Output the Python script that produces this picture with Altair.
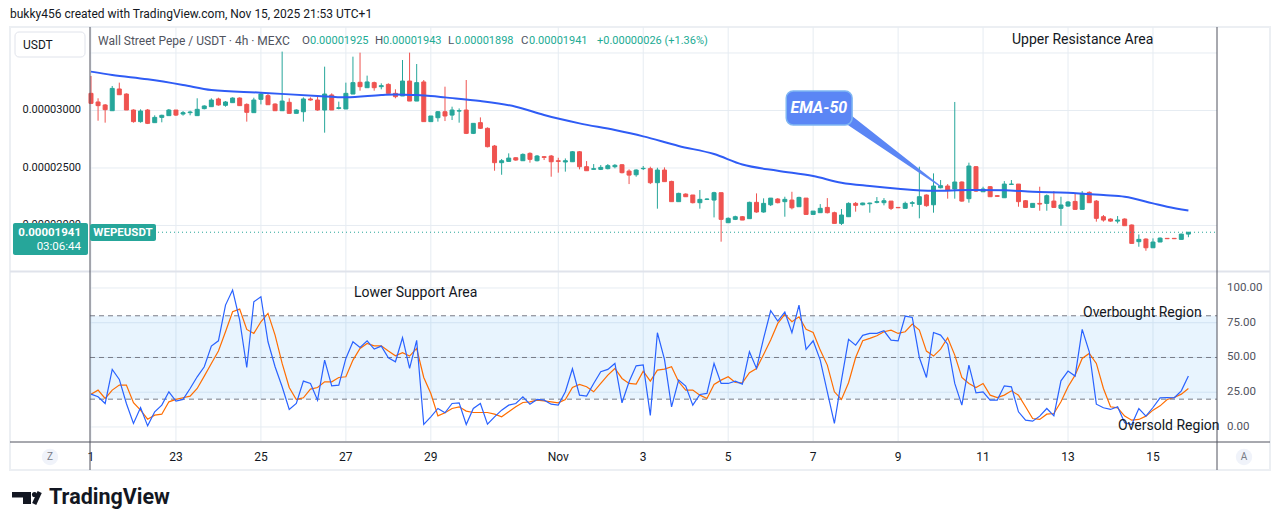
import altair as alt
import pandas as pd

# ---------------- data (prices in units of 1e-8 USDT) ----------------
OPEN = [3149,3074,3048,2998,3187,3143,3004,2903,3004,2894,
        2940,2955,3004,2969,2981,2955,3016,3033,3100,3045,
        3068,3108,3053,2981,3097,3129,3056,2998,3071,2975,
        2989,3100,3091,3004,3135,3018,3013,3143,3245,3198,
        3242,3207,3227,3149,3126,3256,3082,3248,2903,2937,
        2989,2960,2995,3004,2801,2894,2845,2691,2546,2557,
        2589,2563,2627,2563,2598,2604,2563,2552,2554,2641,
        2511,2488,2488,2494,2511,2528,2473,2441,2494,2494,
        2372,2482,2383,2207,2273,2265,2198,2227,2221,2285,
        2024,2053,2076,2059,2201,2117,2180,2230,2207,2221,
        2163,2238,2096,2111,2157,2111,2018,2076,2192,2180,
        2189,2201,2198,2212,2157,2149,2192,2183,2265,2180,
        2328,2343,2317,2378,2233,2511,2293,2337,2259,2241,
        2357,2360,2215,2157,2192,2192,2212,2149,2169,2209,
        2140,2288,2212,2076,2056,2038,2056,2004,1859,1882,
        1806,1856,1888,1888,1879,1925]
HIGH = [3300,3106,3056,3213,3242,3149,3010,3010,3013,2958,
        2963,3013,3004,2995,2998,3106,3045,3106,3111,3082,
        3114,3114,3062,3111,3155,3149,3062,3512,3106,3010,
        3114,3114,3126,3381,3149,3077,3242,3468,3503,3303,
        3251,3236,3236,3184,3439,3503,3404,3265,2952,2995,
        3207,3033,3018,3265,2888,2940,2853,2700,2578,2627,
        2592,2627,2636,2613,2604,2613,2589,2583,2647,2647,
        2560,2534,2525,2534,2534,2534,2488,2488,2517,2511,
        2502,2505,2389,2285,2279,2265,2308,2236,2293,2285,
        2070,2085,2082,2207,2279,2236,2238,2238,2250,2293,
        2250,2238,2125,2186,2238,2120,2143,2201,2204,2198,
        2198,2247,2238,2212,2160,2207,2212,2511,2270,2453,
        2395,2360,3074,2383,2546,2517,2337,2343,2262,2386,
        2395,2360,2221,2192,2337,2270,2299,2250,2212,2279,
        2299,2296,2221,2091,2062,2082,2062,2009,1922,1888,
        1888,1896,1890,1890,1928,1943]
LOW = [3056,2911,2894,2998,3137,3004,2894,2894,2882,2894,
       2897,2955,2952,2955,2958,2955,3010,3033,3042,3033,
       3068,3039,2903,2981,3053,3048,2998,2998,2975,2975,
       2903,3085,2998,2807,3004,3010,3013,3143,3172,3198,
       3172,3184,3149,3106,3126,3082,3082,2903,2903,2903,
       2908,2917,2894,2795,2795,2839,2679,2476,2441,2557,
       2563,2563,2546,2557,2569,2424,2459,2468,2554,2488,
       2476,2488,2482,2488,2497,2453,2360,2424,2482,2360,
       2146,2381,2207,2207,2250,2192,2146,2221,2070,1859,
       2024,2047,2047,2059,2111,2111,2169,2192,2076,2140,
       2163,2096,2096,2111,2105,2018,2004,2076,2120,2175,
       2111,2192,2175,2134,2151,2149,2163,2062,2163,2111,
       2323,2233,2233,2207,2198,2291,2293,2250,2250,2241,
       2357,2163,2157,2157,2128,2128,2157,1998,2163,2140,
       2140,2198,2033,2033,2033,2018,1998,1844,1815,1780,
       1806,1856,1882,1882,1879,1898]
CLOSE = [3062,3042,3007,3192,3137,3004,2903,2995,2888,2940,
         2958,3004,2960,2981,2987,3010,3039,3091,3048,3074,
         3108,3042,2984,3091,3143,3050,2998,3082,2975,3004,
         3100,3091,3004,3143,3004,3024,3149,3242,3207,3248,
         3198,3216,3149,3120,3256,3082,3242,2903,2952,2989,
         2952,3004,2998,2801,2888,2845,2685,2546,2563,2586,
         2569,2618,2575,2604,2592,2554,2557,2563,2641,2511,
         2476,2494,2505,2520,2523,2459,2438,2482,2497,2372,
         2482,2381,2207,2279,2250,2198,2227,2230,2285,2053,
         2062,2076,2047,2201,2117,2192,2238,2198,2227,2154,
         2244,2096,2125,2149,2111,2018,2091,2192,2175,2195,
         2195,2207,2215,2149,2154,2192,2198,2250,2172,2343,
         2346,2308,2378,2212,2517,2299,2317,2250,2253,2360,
         2360,2207,2157,2192,2186,2259,2157,2178,2204,2140,
         2279,2198,2062,2047,2038,2047,1998,1844,1879,1806,
         1856,1890,1885,1885,1925,1941]

# EMA-50 read at sample candles
EMA_IDX = [0, 3, 8, 13, 17, 24, 32, 36, 41, 43, 46, 48, 50, 55, 60, 64, 69, 74, 78,
           83, 88, 92, 97, 102, 106, 110, 114, 119, 124, 129, 133, 138, 143, 146,
           150, 152, 155]
EMA_VAL = [3338, 3309, 3271, 3222, 3178, 3155, 3126, 3114, 3134, 3140, 3134, 3126,
           3114, 3083, 3033, 2960, 2888, 2830, 2775, 2691, 2621, 2530, 2476, 2430,
           2372, 2343, 2320, 2302, 2308, 2306, 2293, 2285, 2264, 2250, 2192, 2163, 2130]

# Stochastic RSI
K = [23.6,21.7,16.9,41.4,34.2,16.9,2.5,14.0,0.8,10.9,
     15.7,25.3,18.6,19.8,27.7,36.1,43.3,58.2,62.0,87.7,
     98.5,76.9,42.8,90.1,93.7,61.3,43.3,28.9,12.6,16.9,
     33.0,31.3,19.3,48.1,29.6,30.1,49.3,61.3,57.2,62.0,
     56.0,58.2,49.8,46.9,64.2,42.1,62.3,1.8,7.3,13.3,
     10.2,16.9,17.4,1.8,13.3,16.9,2.0,7.3,12.1,15.7,
     16.9,21.7,16.4,19.8,19.3,16.4,15.7,25.3,41.9,22.9,
     22.2,31.3,39.7,41.4,45.7,17.4,32.5,44.0,44.7,8.3,
     67.8,48.6,14.5,33.7,29.4,15.7,23.4,24.1,45.7,31.3,
     31.3,33.0,30.8,54.1,42.1,63.7,83.6,76.2,82.7,67.8,
     87.7,55.8,62.0,48.1,25.3,2.5,33.7,63.0,58.9,65.9,
     67.3,67.3,69.2,62.5,62.0,79.8,78.8,50.0,35.6,68.0,
     66.1,59.6,31.3,15.7,44.5,24.6,25.3,19.3,19.3,29.6,
     28.9,10.9,4.9,4.2,7.8,13.3,8.0,33.2,40.2,36.6,
     70.2,54.1,16.4,13.8,12.6,14.5,3.0,1.8,13.3,7.8,
     14.0,21.0,21.2,21.0,26.0,36.6]
D = [23.6,26.5,20.5,26.5,30.1,30.1,17.4,12.1,5.6,8.5,
     9.2,18.1,19.8,21.0,22.2,27.7,36.6,45.7,54.6,68.5,
     82.9,84.8,70.2,67.3,75.7,81.7,66.1,45.7,28.4,19.8,
     21.0,27.2,28.4,32.5,32.5,35.6,36.1,48.1,56.5,60.1,
     58.4,58.4,54.6,51.2,53.4,51.0,56.5,35.6,24.1,8.0,
     10.2,13.3,14.5,11.4,10.4,10.4,10.4,9.2,7.3,10.9,
     14.5,17.6,18.1,19.3,18.8,18.1,17.4,19.8,28.4,30.6,
     28.9,25.3,31.3,37.3,42.1,34.9,31.3,30.8,40.2,33.0,
     40.9,41.6,43.3,32.5,26.5,26.5,22.9,20.5,30.6,33.7,
     36.1,32.0,31.8,39.0,42.1,52.2,62.5,74.5,81.0,75.7,
     79.3,70.2,68.0,55.3,44.5,25.3,19.8,31.8,50.0,62.0,
     63.7,65.6,68.5,69.7,67.3,68.5,74.0,69.7,54.6,51.0,
     56.0,64.2,51.7,35.6,31.3,28.4,31.3,22.9,21.2,22.9,
     26.0,22.9,14.5,6.1,5.4,9.2,9.7,18.1,28.9,37.3,
     49.3,52.9,45.7,27.7,14.5,13.8,7.8,4.9,5.4,7.8,
     12.1,15.2,19.8,21.2,23.6,27.7]

DAY_TICKS = [0, 12, 24, 36, 48, 66, 78, 90, 102, 114, 126, 138, 150]   # candle index of day start
DAY_LABELS = ["1", "23", "25", "27", "29", "Nov", "3", "5", "7", "9", "11", "13", "15"]
PRICE_GRID = [2000, 2500, 3000, 3500]
PRICE_LABELS = [2000, 2500, 3000]
OSC_TICKS = [0, 25, 50, 75, 100]
OSC_LEVELS = [80, 50, 20]
BAND = [20, 80]
LAST_PRICE = 1941

# EMA-50 callout (candle index / price)
CALLOUT_BOX = [98.2, 107.5, 2874, 3170]
CALLOUT_TEXT = [102.8, 3022]
POINTER_IDX = [106.9, 119.9]
POINTER_VAL = [2926, 2343]
POINTER_W = [10, 1]

U = 1e-8
FONT = "Roboto"
GREEN = "#26a69a"
RED = "#ef5350"
GRID = "#e6ecf2"
DARK = "#50535e"
W, H = 1127, 414

n = len(OPEN)
candles = pd.DataFrame({
    "i": list(range(n)),
    "o": [v * U for v in OPEN],
    "h": [v * U for v in HIGH],
    "l": [v * U for v in LOW],
    "c": [v * U for v in CLOSE],
    "dir": ["up" if c >= o else "down" for o, c in zip(OPEN, CLOSE)],
})
ema = pd.DataFrame({"i": EMA_IDX, "v": [v * U for v in EMA_VAL]})
osc = pd.DataFrame({"i": list(range(n)), "k": K, "d": D})
ONE = pd.DataFrame({"z": [0]})

XS = alt.Scale(domain=[-0.14, 159.04], nice=False, zero=False, padding=0)
PS = alt.Scale(domain=[1604 * U, 3726 * U], range=[244, 0], nice=False, zero=False, padding=0)
OS = alt.Scale(domain=[-10.1, 111.5], range=[414, 245], nice=False, zero=False, padding=0)
CS = alt.Scale(domain=["up", "down"], range=[GREEN, RED])


def X(f):
    return alt.X(f, scale=XS, axis=None)


def PY(f):
    return alt.Y(f, scale=PS, axis=None)


def OY(f):
    return alt.Y(f, scale=OS, axis=None)


# ---------------- grids ----------------
vgrid = alt.Chart(pd.DataFrame({"i": DAY_TICKS})).mark_rule(color=GRID, strokeWidth=1).encode(
    x=X("i:Q"), y=alt.value(0), y2=alt.value(H))

# ---------------- price pane ----------------
pgrid = alt.Chart(pd.DataFrame({"p": [v * U for v in PRICE_GRID]})).mark_rule(
    color=GRID, strokeWidth=1).encode(x=alt.value(0), x2=alt.value(W), y=PY("p:Q"))
plabels = alt.Chart(pd.DataFrame({"p": [v * U for v in PRICE_LABELS],
                                  "t": ["{:.8f}".format(v * U) for v in PRICE_LABELS]})).mark_text(
    font=FONT, fontSize=11, color="#131722", align="right", baseline="middle").encode(
    x=alt.value(-9), y=PY("p:Q"), text="t:N")
wicks = alt.Chart(candles).mark_rule(strokeWidth=1).encode(
    x=X("i:Q"), y=PY("l:Q"), y2="h:Q",
    color=alt.Color("dir:N", scale=CS, legend=None),
)
bodies = alt.Chart(candles).mark_bar(size=4, strokeWidth=1).encode(
    x=X("i:Q"), y=PY("o:Q"), y2="c:Q",
    fill=alt.Fill("dir:N", scale=CS, legend=None),
    stroke=alt.Stroke("dir:N", scale=CS, legend=None),
)
ema_line = alt.Chart(ema).mark_line(color="#2f5cf5", strokeWidth=2, interpolate="monotone").encode(
    x=X("i:Q"), y=PY("v:Q"))
last_line = alt.Chart(pd.DataFrame({"p": [LAST_PRICE * U]})).mark_rule(
    color=GREEN, strokeDash=[1, 3], strokeWidth=1).encode(
    x=alt.value(0), x2=alt.value(W), y=PY("p:Q"))
pointer = alt.Chart(pd.DataFrame({"i": POINTER_IDX, "v": [v * U for v in POINTER_VAL],
                                  "s": POINTER_W, "o": [0, 1]})).mark_trail(color="#5b86f5").encode(
    x=X("i:Q"), y=PY("v:Q"),
    size=alt.Size("s:Q", scale=None, legend=None),
    order="o:Q",
)
cbox = alt.Chart(pd.DataFrame({"x1": [CALLOUT_BOX[0]], "x2": [CALLOUT_BOX[1]],
                               "y1": [CALLOUT_BOX[2] * U], "y2": [CALLOUT_BOX[3] * U]})).mark_rect(
    fill="#5b86f5", stroke="#7fb6f2", strokeWidth=1.5, cornerRadius=7).encode(
    x=X("x1:Q"), x2="x2:Q", y=PY("y1:Q"), y2="y2:Q")
ctext = alt.Chart(pd.DataFrame({"x": [CALLOUT_TEXT[0]], "y": [CALLOUT_TEXT[1] * U], "t": ["EMA-50"]})).mark_text(
    font=FONT, fontSize=16, fontWeight="bold", fontStyle="italic", color="white").encode(
    x=X("x:Q"), y=PY("y:Q"), text="t:N")
price_pane = alt.layer(pgrid, wicks, bodies, ema_line, last_line, pointer, cbox, ctext, plabels)

# ---------------- oscillator pane ----------------
ogrid = alt.Chart(pd.DataFrame({"v": OSC_TICKS})).mark_rule(color=GRID, strokeWidth=1).encode(
    x=alt.value(0), x2=alt.value(W), y=OY("v:Q"))
olabels = alt.Chart(pd.DataFrame({"v": OSC_TICKS, "t": ["{:.2f}".format(v) for v in OSC_TICKS]})).mark_text(
    font=FONT, fontSize=11.5, color="#50535e", align="left", baseline="middle").encode(
    x=alt.value(W + 10), y=OY("v:Q"), text="t:N")
band = alt.Chart(pd.DataFrame({"lo": [BAND[0]], "hi": [BAND[1]]})).mark_rect(
    color="#2196f3", opacity=0.1).encode(
    x=alt.value(0), x2=alt.value(W), y=OY("lo:Q"), y2="hi:Q")
levels = alt.Chart(pd.DataFrame({"v": OSC_LEVELS})).mark_rule(
    color="#787b86", strokeDash=[5, 4], strokeWidth=1).encode(
    x=alt.value(0), x2=alt.value(W), y=OY("v:Q"))
kline = alt.Chart(osc).mark_line(color="#2962ff", strokeWidth=1.2).encode(x=X("i:Q"), y=OY("k:Q"))
dline = alt.Chart(osc).mark_line(color="#ff6d00", strokeWidth=1.2).encode(x=X("i:Q"), y=OY("d:Q"))
osc_pane = alt.layer(ogrid, band, levels, dline, kline, olabels)


# ---------------- decorations (pixel positions relative to plot origin) ----------------
def text(t, x, y, size=12, color="#131722", align="left", weight="normal", baseline="middle"):
    return alt.Chart(ONE).mark_text(text=t, font=FONT, fontSize=size, color=color, align=align,
                                    baseline=baseline, fontWeight=weight).encode(
        x=alt.value(x), y=alt.value(y))


def rect(x1, x2, y1, y2, fill="white", stroke=None, sw=0, r=0, fo=1.0):
    kw = dict(fill=fill, fillOpacity=fo, cornerRadius=r, strokeWidth=sw)
    if stroke:
        kw["stroke"] = stroke
    return alt.Chart(ONE).mark_rect(**kw).encode(
        x=alt.value(x1), x2=alt.value(x2), y=alt.value(y1), y2=alt.value(y2))


def rule(x1, y1, x2, y2, color=DARK, sw=1):
    return alt.Chart(ONE).mark_rule(color=color, strokeWidth=sw).encode(
        x=alt.value(x1), x2=alt.value(x2), y=alt.value(y1), y2=alt.value(y2))


frame = rect(-80, 1180, 0, 443, fill="white", stroke="#eceff3", sw=2, fo=0)

xlabels = alt.Chart(pd.DataFrame({"i": DAY_TICKS, "t": DAY_LABELS})).mark_text(
    font=FONT, fontSize=12, color="#131722", baseline="middle").encode(
    x=X("i:Q"), y=alt.value(430), text="t:N")

NUM = "#22ab94"
decor = [
    rule(-80, 244.5, 1180, 244.5, color="#e0e3eb", sw=2),
    rule(0, 0, 0, 443),
    rule(W, 0, W, 443),
    rule(-80, 415, 1180, 415),
    # header
    text("bukky456 created with TradingView.com, Nov 15, 2025 21:53 UTC+1", -80, -13, size=12),
    rect(-75, -5, 5, 30, fill="white", stroke="#e0e3eb", sw=1, r=4),
    text("USDT", -67, 18, size=12),
    text("Wall Street Pepe / USDT · 4h · MEXC", 8, 14, size=12, color="#50535e"),
    text("O", 212, 14, size=11.5, color="#50535e"), text("0.00001925", 220, 14, size=11, color=NUM),
    text("H", 285, 14, size=11.5, color="#50535e"), text("0.00001943", 293, 14, size=11, color=NUM),
    text("L", 358, 14, size=11.5, color="#50535e"), text("0.00001898", 365, 14, size=11, color=NUM),
    text("C", 431, 14, size=11.5, color="#50535e"), text("0.00001941", 439, 14, size=11, color=NUM),
    text("+0.00000026 (+1.36%)", 507, 14, size=11, color=NUM),
    # annotations
    text("Upper Resistance Area", 922, 13, size=14),
    text("Lower Support Area", 264, 266, size=14),
    text("Overbought Region", 993, 286, size=14),
    text("Oversold Region", 1028, 399, size=14),
    # last price labels
    rect(-77, -2, 196, 228, fill=GREEN, r=2),
    text("0.00001941", -9, 206, size=11.5, color="white", align="right", weight="bold"),
    text("03:06:44", -9, 220, size=11.5, color="white", align="right"),
    rect(0, 66, 197, 214, fill=GREEN, r=2),
    text("WEPEUSDT", 33, 205.5, size=11.5, color="white", align="center", weight="bold"),
    # bottom corner buttons
    alt.Chart(ONE).mark_circle(size=270, color="#f0f3fa", opacity=1).encode(x=alt.value(-40), y=alt.value(430)),
    text("Z", -40, 430, size=10, color="#787b86", align="center"),
    alt.Chart(ONE).mark_circle(size=270, color="#f0f3fa", opacity=1).encode(x=alt.value(1154), y=alt.value(430)),
    text("A", 1154, 430, size=10, color="#787b86", align="center"),
    # logo
    rect(-78, -59, 465, 470.5, fill="#131722"),
    rect(-67, -59, 465, 477, fill="#131722"),
    alt.Chart(ONE).mark_circle(size=26, color="#131722", opacity=1).encode(x=alt.value(-55.5), y=alt.value(467.5)),
    rule(-50.3, 465, -55.8, 477, color="#131722", sw=4.5),
    text("TradingView", -41, 477, size=21.5, weight="bold", baseline="alphabetic"),
]

chart = alt.layer(frame, vgrid, price_pane, osc_pane, xlabels, *decor).resolve_scale(
    y="independent").properties(
    width=W, height=H, autosize="none",
    padding={"left": 90, "top": 27, "right": 64, "bottom": 89},
    background="white",
).configure_view(stroke=None)

chart.save("out.html", embed_options={"renderer": "svg", "actions": False})
